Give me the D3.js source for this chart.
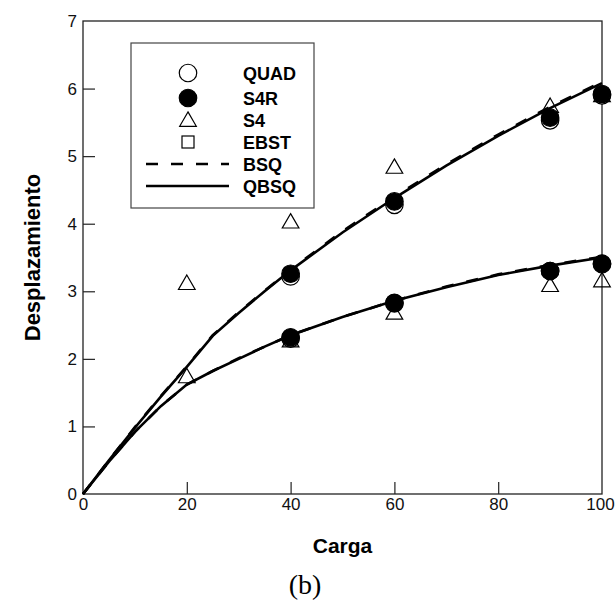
<!DOCTYPE html>
<html>
<head>
<meta charset="utf-8">
<script src="https://cdn.jsdelivr.net/npm/d3@7"></script>
<style>
  body { margin: 0; background: #fff; }
  text { font-family: "Liberation Sans", Arial, sans-serif; }
</style>
</head>
<body>
<div id="chart"></div>
<script>
// Chart size and plot area.
const width = 616;
const height = 606;
const margin = { top: 21, right: 14, bottom: 112, left: 83 };

// Data.
const xTicks = [0, 20, 40, 60, 80, 100];
const yTicks = [0, 1, 2, 3, 4, 5, 6, 7];

const quadX = [40, 60, 90, 100];
const quadUpper = [3.22, 4.28, 5.53, 5.9];
const quadLower = [2.3, 2.82, 3.3, 3.4];

const s4rX = [40, 60, 90, 100];
const s4rUpper = [3.26, 4.33, 5.57, 5.92];
const s4rLower = [2.32, 2.83, 3.3, 3.41];

const s4X = [20, 40, 60, 90, 100];
const s4Upper = [3.12, 4.03, 4.84, 5.74, 5.9];
const s4Lower = [1.74, 2.27, 2.68, 3.09, 3.16];

const curveX = [0, 5, 10, 15, 20, 25, 30, 35, 40, 50, 60, 70, 80, 90, 100];
const bsqUpper = [0, 0.5, 0.99, 1.45, 1.89, 2.35, 2.69, 3.01, 3.32, 3.89, 4.4, 4.88, 5.32, 5.73, 6.1];
const bsqLower = [0, 0.48, 0.92, 1.3, 1.62, 1.82, 2.01, 2.18, 2.35, 2.62, 2.86, 3.07, 3.25, 3.39, 3.51];
const qbsqUpper = [0, 0.5, 0.98, 1.44, 1.88, 2.34, 2.68, 3.0, 3.31, 3.87, 4.38, 4.86, 5.3, 5.71, 6.08];
const qbsqLower = [0, 0.48, 0.92, 1.3, 1.62, 1.82, 2.0, 2.18, 2.35, 2.62, 2.86, 3.06, 3.24, 3.38, 3.5];

const legendNames = ["QUAD", "S4R", "S4", "EBST", "BSQ", "QBSQ"];

const svg = d3.select("#chart")
  .append("svg")
  .attr("width", width)
  .attr("height", height);

const x = d3.scaleLinear()
  .domain([0, 100])
  .range([margin.left, width - margin.right]);

const y = d3.scaleLinear()
  .domain([0, 7])
  .range([height - margin.bottom, margin.top]);

// Frame around the plot.
svg.append("rect")
  .attr("x", x(0))
  .attr("y", y(7))
  .attr("width", x(100) - x(0))
  .attr("height", y(0) - y(7))
  .attr("fill", "none")
  .attr("stroke", "#222")
  .attr("stroke-width", 1.3);

// Axes with inward ticks.
const xAxis = svg.append("g")
  .attr("transform", "translate(0," + y(0) + ")")
  .call(d3.axisBottom(x).tickValues(xTicks).tickFormat(d3.format("d"))
    .tickSizeInner(-12).tickSizeOuter(0).tickPadding(4));

const yAxis = svg.append("g")
  .attr("transform", "translate(" + x(0) + ",0)")
  .call(d3.axisLeft(y).tickValues(yTicks).tickFormat(d3.format("d"))
    .tickSizeInner(-12).tickSizeOuter(0).tickPadding(6));

[xAxis, yAxis].forEach(function(g) {
  g.select(".domain").remove();
  g.selectAll(".tick line").attr("stroke", "#222").attr("stroke-width", 1.2);
  g.selectAll("text").attr("font-size", 17).attr("fill", "#111");
});
xAxis.selectAll(".tick").filter(function(d) { return d === 0 || d === 100; }).select("line").remove();
yAxis.selectAll(".tick").filter(function(d) { return d === 0 || d === 7; }).select("line").remove();
// Keep the last label inside the window.
xAxis.selectAll(".tick").filter(function(d) { return d === 100; }).select("text").attr("dx", -2);

// Curves.
const line = d3.line()
  .x(function(d) { return x(d[0]); })
  .y(function(d) { return y(d[1]); });

function drawCurve(values, dash) {
  svg.append("path")
    .datum(curveX.map(function(v, i) { return [v, values[i]]; }))
    .attr("d", line)
    .attr("fill", "none")
    .attr("stroke", "#000")
    .attr("stroke-width", 2.6)
    .attr("stroke-dasharray", dash);
}
drawCurve(bsqUpper, "12,13");
drawCurve(bsqLower, "12,13");
drawCurve(qbsqUpper, null);
drawCurve(qbsqLower, null);

// Markers.
const circleSym = d3.symbol().type(d3.symbolCircle).size(240);
const triSym = d3.symbol().type(d3.symbolTriangle).size(120);

function drawPoints(xs, ys, sym, fill, dy) {
  svg.selectAll(null)
    .data(xs.map(function(v, i) { return [v, ys[i]]; }))
    .enter()
    .append("path")
    .attr("d", sym)
    .attr("transform", function(d) { return "translate(" + x(d[0]) + "," + (y(d[1]) + dy) + ")"; })
    .attr("fill", fill)
    .attr("stroke", "#000")
    .attr("stroke-width", 1.2);
}
drawPoints(quadX, quadUpper, circleSym, "#fff", 0);
drawPoints(quadX, quadLower, circleSym, "#fff", 0);
drawPoints(s4rX, s4rUpper, circleSym, "#000", 0);
drawPoints(s4rX, s4rLower, circleSym, "#000", 0);
drawPoints(s4X, s4Upper, triSym, "none", 1.5);
drawPoints(s4X, s4Lower, triSym, "none", 1.5);

// Legend.
const legend = svg.append("g");
legend.append("rect")
  .attr("x", 131)
  .attr("y", 43)
  .attr("width", 183)
  .attr("height", 165)
  .attr("fill", "#fff")
  .attr("stroke", "#444")
  .attr("stroke-width", 1.2);

const rowY = [73, 98, 120, 142, 164, 186];
legendNames.forEach(function(name, i) {
  const cy = rowY[i];
  if (i === 0 || i === 1) {
    legend.append("path").attr("d", circleSym)
      .attr("transform", "translate(188," + cy + ")")
      .attr("fill", i === 0 ? "#fff" : "#000")
      .attr("stroke", "#000").attr("stroke-width", 1.2);
  } else if (i === 2) {
    legend.append("path").attr("d", triSym)
      .attr("transform", "translate(188," + (cy + 1.5) + ")")
      .attr("fill", "none")
      .attr("stroke", "#000").attr("stroke-width", 1.2);
  } else if (i === 3) {
    legend.append("rect")
      .attr("x", 182).attr("y", cy - 6).attr("width", 12).attr("height", 12)
      .attr("fill", "none").attr("stroke", "#000").attr("stroke-width", 1.2);
  } else {
    legend.append("line")
      .attr("x1", 146).attr("x2", 229).attr("y1", cy).attr("y2", cy)
      .attr("stroke", "#000").attr("stroke-width", 2.6)
      .attr("stroke-dasharray", i === 4 ? "12,13" : null);
  }
  legend.append("text")
    .attr("x", 243)
    .attr("y", cy + 6.5)
    .attr("font-size", 18)
    .attr("font-weight", "bold")
    .text(name);
});

// Axis titles and caption.
svg.append("text")
  .attr("x", (x(0) + x(100)) / 2)
  .attr("y", 553)
  .attr("text-anchor", "middle")
  .attr("font-size", 21)
  .attr("font-weight", "bold")
  .text("Carga");

svg.append("text")
  .attr("transform", "translate(40," + ((y(0) + y(7)) / 2) + ") rotate(-90)")
  .attr("text-anchor", "middle")
  .attr("font-size", 22)
  .attr("font-weight", "bold")
  .text("Desplazamiento");

svg.append("text")
  .attr("x", 305)
  .attr("y", 594)
  .attr("text-anchor", "middle")
  .attr("font-size", 28)
  .style("font-family", "'Liberation Serif', 'Times New Roman', serif")
  .text("(b)");
</script>
</body>
</html>
